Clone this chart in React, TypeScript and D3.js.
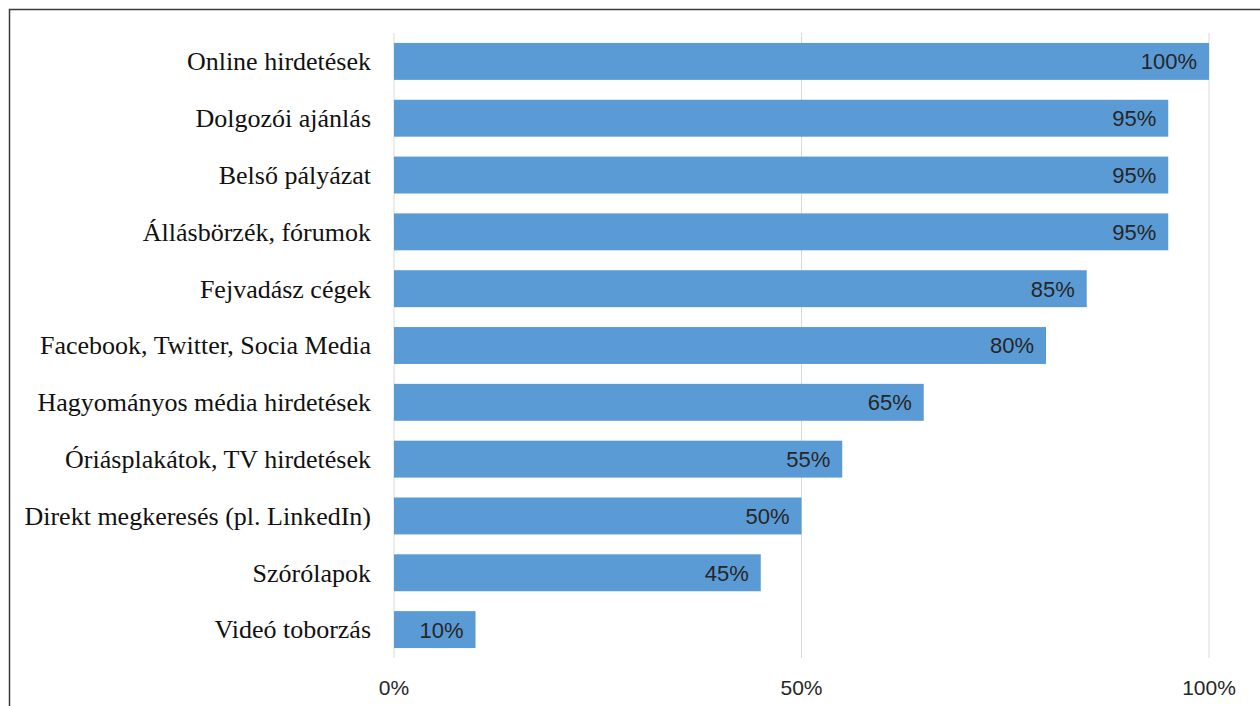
import React, { useEffect } from "react";
import * as d3 from "d3";

const categories = [
  "Online hirdetések",
  "Dolgozói ajánlás",
  "Belső pályázat",
  "Állásbörzék, fórumok",
  "Fejvadász cégek",
  "Facebook, Twitter, Socia Media",
  "Hagyományos média hirdetések",
  "Óriásplakátok, TV hirdetések",
  "Direkt megkeresés (pl. LinkedIn)",
  "Szórólapok",
  "Videó toborzás",
];
const values = [1.0, 0.95, 0.95, 0.95, 0.85, 0.8, 0.65, 0.55, 0.5, 0.45, 0.1];
const ticks = [0, 0.5, 1];

const W = 1260;
const H = 706;

export default function App() {
  useEffect(() => {
    document.body.style.margin = "0";
  }, []);

  const x = d3.scaleLinear().domain([0, 1]).range([394, 1209]);
  const y = d3
    .scaleBand<string>()
    .domain(categories)
    .range([33, 658])
    .paddingInner(0.35)
    .paddingOuter(0.175);
  const pct = d3.format(".0%");

  return (
    <svg width={W} height={H} style={{ display: "block" }}>
      <rect x={0} y={0} width={W} height={H} fill="#fff" />
      <rect x={9.5} y={9.5} width={W + 20} height={H + 20} fill="none" stroke="#3a3a3a" strokeWidth={1.5} />
      {ticks.map((t) => (
        <line key={"g" + t} x1={x(t)} x2={x(t)} y1={33} y2={658} stroke="#d9d9d9" strokeWidth={1} />
      ))}
      {categories.map((c, i) => (
        <g key={c}>
          <rect x={x(0)} y={y(c)!} width={x(values[i]) - x(0)} height={y.bandwidth()} fill="#5b9bd5" />
          <text
            x={x(values[i]) - 12}
            y={y(c)! + y.bandwidth() / 2}
            dy="0.36em"
            textAnchor="end"
            fontFamily="'Liberation Sans', Arial, sans-serif"
            fontSize={22}
            fill="#262626"
          >
            {pct(values[i])}
          </text>
          <text
            x={371}
            y={y(c)! + y.bandwidth() / 2}
            dy="0.34em"
            textAnchor="end"
            fontFamily="'Liberation Serif', 'Times New Roman', serif"
            fontSize={26}
            fill="#111"
          >
            {c}
          </text>
        </g>
      ))}
      {ticks.map((t) => (
        <text
          key={"t" + t}
          x={x(t)}
          y={687}
          dy="0.36em"
          textAnchor="middle"
          fontFamily="'Liberation Sans', Arial, sans-serif"
          fontSize={21}
          fill="#262626"
        >
          {pct(t)}
        </text>
      ))}
    </svg>
  );
}
